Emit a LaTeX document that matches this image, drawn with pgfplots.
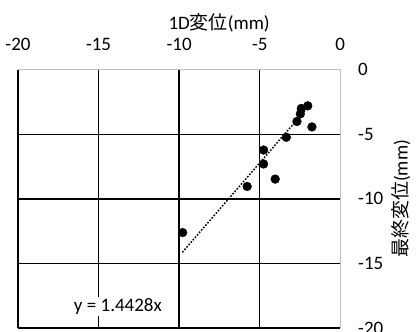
\documentclass[border=0pt]{standalone}
\usepackage{fontspec}
\setmainfont{Carlito}
\newfontfamily\cjk{Noto Sans CJK JP}
\usepackage{pgfplots}
\pgfplotsset{compat=1.18}
\definecolor{bordergray}{HTML}{BFBFBF}
\definecolor{txt}{HTML}{000000}
\newcommand{\fs}{\fontsize{19}{22}\selectfont}
\begin{document}
\begin{tikzpicture}
\begin{axis}[
  scale only axis, width=322.3pt, height=258.3pt,
  xmin=-20, xmax=0, ymin=-20, ymax=0,
  xtick={-20,-15,-10,-5}, ytick={-20,-15,-10,-5},
  extra x ticks={0}, extra y ticks={0},
  extra tick style={grid=none},
  grid=major,
  major grid style={black, line width=1.4pt},
  major tick length=0pt,
  axis line style={draw=none},
  xticklabel pos=right, yticklabel pos=right,
  /pgf/number format/assume math mode=true,
  tick label style={font=\fs, text=txt},
  xticklabel style={anchor=center, yshift=25pt},
  yticklabel style={anchor=west, xshift=14.4pt},
  clip=false,
]
\addplot[black, line width=1.5pt, dash pattern=on 1.6pt off 1.6pt] coordinates {(-9.8,-14.139) (-1.76,-2.539)};
\addplot[only marks, mark=*, mark size=4.4pt, black] coordinates {
(-2.02,-2.80) (-2.42,-3.00) (-2.48,-3.42) (-2.69,-4.01) (-1.76,-4.43)
(-3.35,-5.23) (-4.76,-6.22) (-4.76,-7.30) (-4.04,-8.47) (-5.78,-9.04)
(-9.78,-12.61)
};
\draw[bordergray, line width=1.2pt] (rel axis cs:0,1) -- (rel axis cs:1,1) -- (rel axis cs:1,0);
\node[fill=white, inner sep=1.5pt, font=\fs, text=txt] at (axis cs:-13.8,-18.35) {y = 1.4428x};
\node[font=\fs, text=txt] at (axis description cs:0.624,1.182) {1D{\cjk 変位}(mm)};
\node[font=\fs, text=txt, rotate=90] at (axis description cs:1.188,0.5) {{\cjk 最終変位}(mm)};
\coordinate (sw) at (rel axis cs:0,0);
\coordinate (ne) at (rel axis cs:1,1);
\end{axis}
\pgfresetboundingbox
\path ([shift={(-18pt,-4pt)}]sw) rectangle ([shift={(75.7pt,69.7pt)}]ne);
\end{tikzpicture}
\end{document}
